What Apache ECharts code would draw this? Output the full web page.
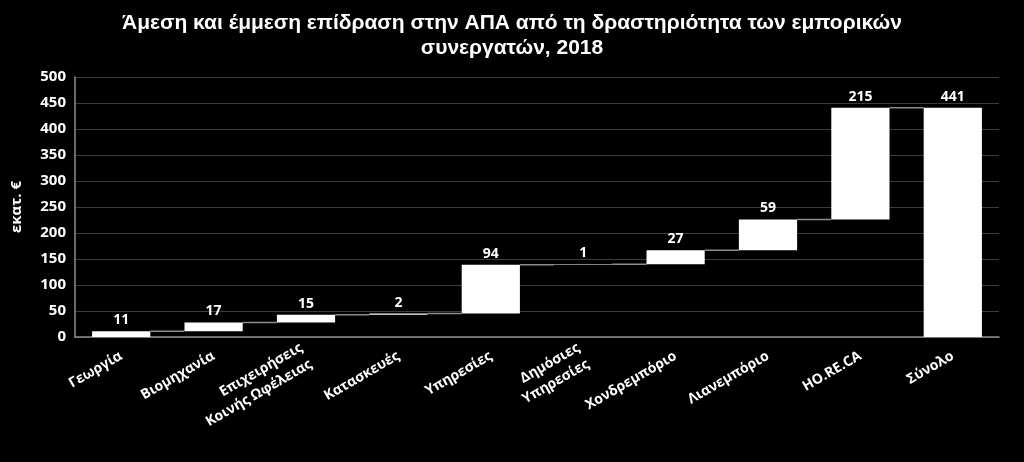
<!DOCTYPE html>
<html><head><meta charset="utf-8">
<script src="https://cdn.jsdelivr.net/npm/echarts@6/dist/echarts.min.js"></script>
<style>html,body{margin:0;padding:0;background:#000;}#c{width:1024px;height:462px;}</style>
</head><body><div id="c"></div>
<script>
const categories = ['Γεωργία','Βιομηχανία','Επιχειρήσεις\nΚοινής Ωφέλειας','Κατασκευές','Υπηρεσίες','Δημόσιες\nΥπηρεσίες','Χονδρεμπόριο','Λιανεμπόριο','HO.RE.CA','Σύνολο'];
const values = [11,17,15,2,94,1,27,59,215,441];
const isTotal = [false,false,false,false,false,false,false,false,false,true];
const yTicks = {min:0, max:500, interval:50};

const base = [];
const tops = [];
let cum = 0;
values.forEach((v,i)=>{
  if (isTotal[i]) { base.push(0); tops.push(v); }
  else { base.push(cum); cum += v; tops.push(cum); }
});
const connectors = [];
for (let i=0;i<values.length-1;i++) connectors.push([i, tops[i]]);

const BAR_FRAC = 0.63;
const font = '"Open Sans", "DejaVu Sans", sans-serif';
const chart = echarts.init(document.getElementById('c'), null, {renderer:'canvas'});
chart.setOption({
  backgroundColor:'#000',
  animation:false,
  title:{
    text:'Άμεση και έμμεση επίδραση στην ΑΠΑ από τη δραστηριότητα των εμπορικών\nσυνεργατών, 2018',
    left:'center', top:6,
    textStyle:{color:'#fff', fontFamily:'"Liberation Sans Narrow", "Liberation Sans", sans-serif', fontWeight:'bold', fontSize:21, lineHeight:25}
  },
  grid:{left:75, right:25, top:77, bottom:125},
  xAxis:{
    type:'category', data:categories,
    axisLine:{lineStyle:{color:'#8c8c8c', width:1.5}},
    axisTick:{show:false},
    axisLabel:{color:'#fff', fontFamily:font, fontWeight:'bold', fontSize:14, rotate:30, interval:0, margin:18, lineHeight:19, align:'right'}
  },
  yAxis:{
    type:'value', min:yTicks.min, max:yTicks.max, interval:yTicks.interval,
    name:'εκατ. €', nameLocation:'middle', nameGap:51, nameRotate:90,
    nameTextStyle:{color:'#fff', fontFamily:font, fontWeight:'bold', fontSize:15},
    axisLine:{show:true, lineStyle:{color:'#8c8c8c', width:1.5}},
    axisTick:{show:false},
    axisLabel:{color:'#fff', fontFamily:font, fontWeight:'bold', fontSize:15, margin:9},
    splitLine:{lineStyle:{color:'#3c3c3c', width:1}}
  },
  series:[
    {type:'bar', stack:'w', data:base, barWidth:(BAR_FRAC*100)+'%', itemStyle:{color:'transparent'}, silent:true},
    {type:'bar', stack:'w', data:values, barWidth:(BAR_FRAC*100)+'%', itemStyle:{color:'#fff'},
      label:{show:true, position:'top', distance:4, color:'#fff', fontFamily:font, fontWeight:'bold', fontSize:14}},
    {type:'custom', data:connectors, z:1,
      renderItem:function(params, api){
        const i = api.value(0), lvl = api.value(1);
        const p = api.coord([i, lvl]);
        const w = api.size([1,0])[0];
        const bw = w*BAR_FRAC;
        return {type:'line', shape:{x1:p[0]+bw/2, y1:p[1], x2:p[0]+w-bw/2, y2:p[1]},
          style:{stroke:'#8c8c8c', lineWidth:1.5}};
      }}
  ]
});
</script></body></html>
